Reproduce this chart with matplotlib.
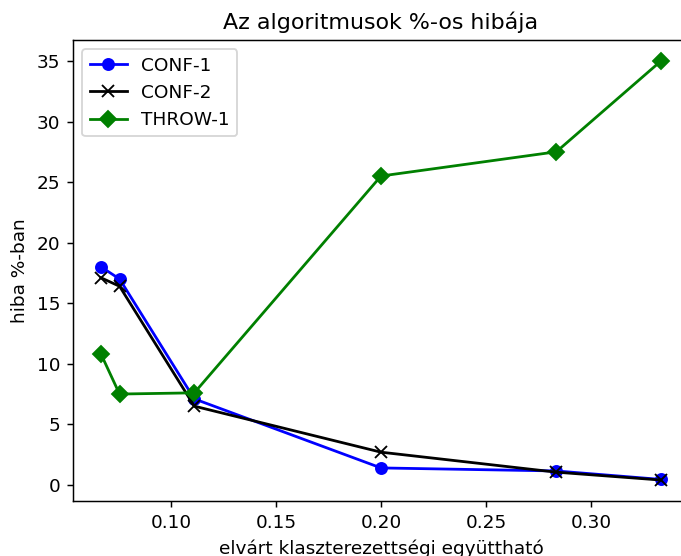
import matplotlib
matplotlib.use("Agg")
import matplotlib.pyplot as plt

x = [1/15, 0.0755, 1/9, 0.2, 0.2835, 1/3]
conf1 = [18.0, 17.0, 7.1, 1.4, 1.15, 0.45]
conf2 = [17.1, 16.4, 6.5, 2.7, 1.05, 0.4]
throw1 = [10.8, 7.5, 7.6, 25.5, 27.5, 35.0]

DPI = 133
fig = plt.figure(figsize=(681/DPI, 556/DPI), dpi=DPI)
ax = fig.add_axes([73/681, 1-501/556, 616/681, 461/556])
ax.plot(x, conf1, color='blue', marker='o', label='CONF-1')
ax.plot(x, conf2, color='black', marker='x', label='CONF-2')
ax.plot(x, throw1, color='green', marker='D', label='THROW-1')
ax.set_title('Az algoritmusok %-os hibája')
ax.set_xlabel('elvárt klaszterezettségi együttható')
ax.set_ylabel('hiba %-ban')
ax.legend(loc='upper left')
fig.savefig('out.png', dpi=DPI)
